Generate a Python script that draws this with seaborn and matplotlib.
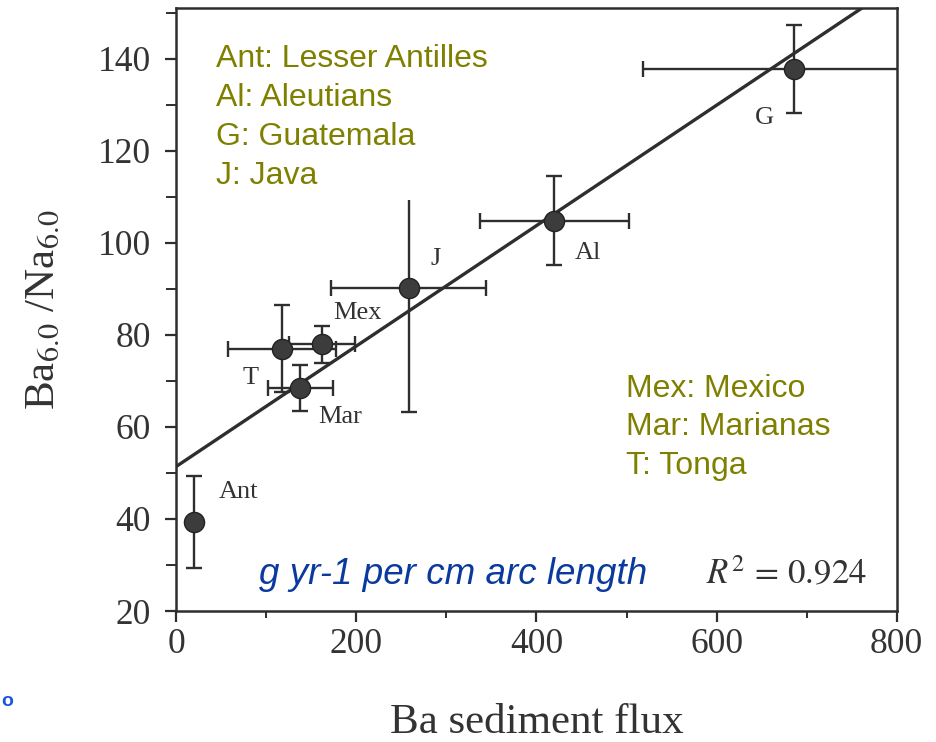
import numpy as np
import pandas as pd
import matplotlib
matplotlib.use("Agg")
import matplotlib.pyplot as plt
import seaborn as sns
from matplotlib.ticker import MultipleLocator

# Arc-averaged data per subduction zone
regions = ["Ant", "T", "Mex", "Mar", "J", "Al", "G"]
ba_flux = [20, 118, 162, 138, 258, 420, 686]
ba_na = [39.3, 77.0, 78.0, 68.4, 90.3, 104.8, 137.8]
ba_flux_err = [0, 60, 37, 36, 86, 83, 168]
ba_na_err = [10.0, 9.5, 4.0, 5.0, 27.0, 9.7, 9.5]

# Label placement around each point (pixels: right, up)
label_offsets = {
    "Ant": (44, 30), "T": (-32, -29), "Mex": (35, 31), "Mar": (40, -29),
    "J": (27, 29), "Al": (33, -32), "G": (-30, -49),
}

legend_top = "Ant: Lesser Antilles\nAl: Aleutians\nG: Guatemala\nJ: Java"
legend_bottom = "Mex: Mexico\nMar: Marianas\nT: Tonga"
units_text = "g yr-1 per cm arc length"
r2_text = r"$R^2\,=\,0.924$"

df = pd.DataFrame({"region": regions, "flux": ba_flux, "ratio": ba_na,
                   "flux_err": ba_flux_err, "ratio_err": ba_na_err})

sns.set_theme(style="ticks")
plt.rcParams["font.family"] = ["Liberation Serif", "DejaVu Serif"]
plt.rcParams["mathtext.fontset"] = "stix"

ink = "#2e2e2e"
sans = ["Liberation Sans", "DejaVu Sans"]
fig = plt.figure(figsize=(9.37, 7.42), dpi=100)
ax = fig.add_axes([0.188, 0.1765, 0.769, 0.8125])
ax.set_xlim(0, 800)
ax.set_ylim(20, 151)

# Regression line across the full axis width
sns.regplot(data=df, x="flux", y="ratio", scatter=False, ci=None,
            truncate=False, ax=ax, line_kws=dict(color=ink, lw=2.4, zorder=2))

ax.errorbar(df["flux"], df["ratio"], xerr=df["flux_err"], yerr=df["ratio_err"],
            fmt="none", ecolor=ink, elinewidth=1.7, capsize=6, capthick=1.7,
            zorder=3)
sns.scatterplot(data=df, x="flux", y="ratio", s=210, color="#3c3c3c",
                edgecolor="#222222", linewidth=1.0, ax=ax, zorder=4)

for name, x, y in zip(regions, ba_flux, ba_na):
    dx, dy = label_offsets[name]
    ax.annotate(name, (x, y), xytext=(dx, dy), textcoords="offset pixels",
                ha="center", va="center", fontsize=19, color="#333333")

olive = "#7f7f00"
ax.text(0.0555, 0.940, legend_top, transform=ax.transAxes, ha="left", va="top",
        fontsize=23, color=olive, family=sans, linespacing=1.38, zorder=6,
        bbox=dict(facecolor="white", edgecolor="none", pad=7))
ax.text(0.624, 0.394, legend_bottom, transform=ax.transAxes, ha="left",
        va="top", fontsize=23, color=olive, family=sans, linespacing=1.38,
        zorder=6)
ax.text(0.115, 0.06, units_text, transform=ax.transAxes, ha="left",
        va="center", fontsize=26.5, color="#0a3a9e", style="italic",
        family=sans, zorder=6)
ax.text(0.958, 0.06, r2_text, transform=ax.transAxes, ha="right",
        va="center", fontsize=25, color="#333333", zorder=6)

ax.set_xlabel("Ba sediment flux", fontsize=31, color="#333333", labelpad=31)
ax.set_ylabel(r"Ba$_{\mathrm{6.0}}$ /Na$_{\mathrm{6.0}}$", fontsize=31,
              color="#333333", labelpad=25)

ax.xaxis.set_major_locator(MultipleLocator(200))
ax.xaxis.set_minor_locator(MultipleLocator(100))
ax.yaxis.set_major_locator(MultipleLocator(20))
ax.yaxis.set_minor_locator(MultipleLocator(10))
ax.tick_params(axis="both", which="major", labelsize=25.5, colors=ink,
               labelcolor="#333333", length=8, width=1.6, direction="out")
ax.tick_params(axis="x", which="minor", length=5, width=1.4, colors=ink)
ax.tick_params(axis="y", which="minor", length=7, width=1.4, colors=ink)
ax.tick_params(axis="y", which="major", pad=10)
ax.tick_params(axis="x", which="major", pad=4)
ax.tick_params(top=False, right=False, which="both")

for side in ["left", "bottom", "top", "right"]:
    ax.spines[side].set_visible(True)
    ax.spines[side].set_color(ink)
    ax.spines[side].set_linewidth(1.8)

# Small caption mark at the lower-left edge
fig.text(0.001, 0.055, "o", ha="left", va="center", fontsize=14,
         color="#1a55d8", family=sans, fontweight="bold")

fig.savefig("out.png", dpi=100, facecolor="white")
